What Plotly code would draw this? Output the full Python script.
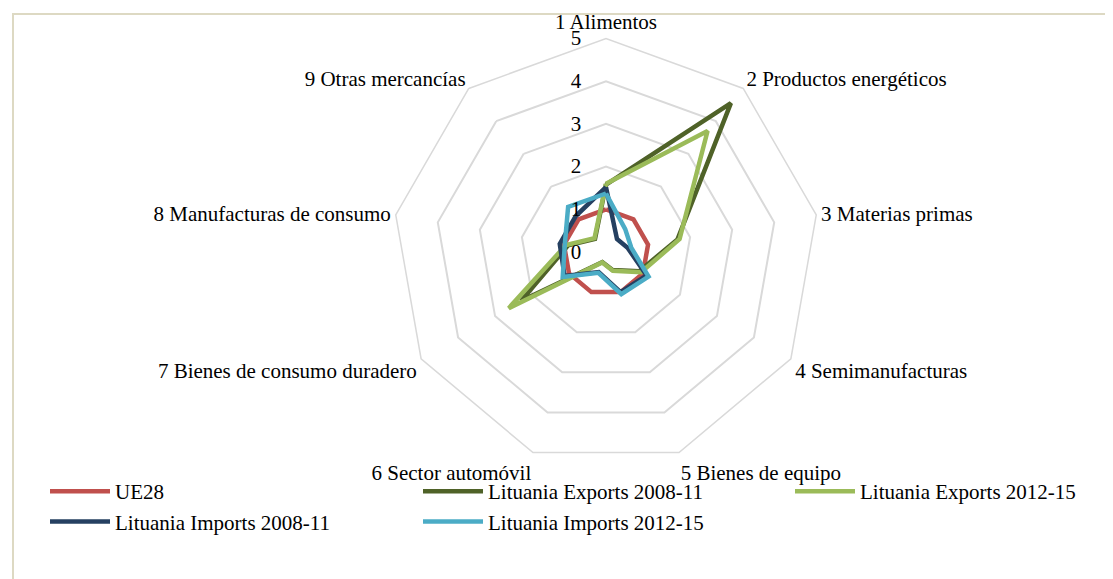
import plotly.graph_objects as go

categories = ["1 Alimentos", "2 Productos energéticos", "3 Materias primas",
              "4 Semimanufacturas", "5 Bienes de equipo", "6 Sector automóvil",
              "7 Bienes de consumo duradero", "8 Manufacturas de consumo",
              "9 Otras mercancías"]

series_names = ["UE28", "Lituania Exports 2008-11", "Lituania Exports 2012-15",
                "Lituania Imports 2008-11", "Lituania Imports 2012-15"]

ue28 = [1, 1, 1, 1, 1, 1, 1, 1, 1]
exp_2008_11 = [1.58, 4.55, 1.70, 0.90, 0.45, 0.25, 2.30, 0.90, 0.40]
exp_2012_15 = [1.60, 3.70, 1.75, 0.95, 0.47, 0.26, 2.63, 0.95, 0.42]
imp_2008_11 = [1.52, 0.40, 0.52, 1.10, 1.00, 0.50, 1.12, 1.10, 1.10]
imp_2012_15 = [1.37, 0.70, 0.60, 1.15, 1.05, 0.52, 1.17, 0.98, 1.38]

values = [ue28, exp_2008_11, exp_2012_15, imp_2008_11, imp_2012_15]
colors = ["#C0504D", "#4F6228", "#9BBB59", "#254061", "#4BACC6"]
legend_ids = ["legend", "legend2", "legend3", "legend", "legend2"]

W, H = 1113, 579
dcx, dcy, half = 598, 244, 213.5

font_family = "Liberation Serif, serif"
FS = 21

fig = go.Figure()
for name, vals, col, lg in zip(series_names, values, colors, legend_ids):
    fig.add_trace(go.Scatterpolar(
        r=vals + vals[:1], theta=categories + categories[:1],
        mode="lines", name=name, legend=lg, legendgroup=name,
        line=dict(color=col, width=4.5, shape="linear"),
        hoverinfo="name+r+theta",
    ))

legend_top = 463
def mk_legend(x_px):
    return dict(
        orientation="v", x=(x_px - 30) / W, xanchor="left",
        y=1 - legend_top / H, yanchor="top",
        font=dict(size=FS, family=font_family, color="black"),
        bgcolor="rgba(0,0,0,0)", tracegroupgap=0, itemwidth=60,
    )

fig.update_layout(
    width=W, height=H,
    margin=dict(l=0, r=0, t=0, b=0),
    paper_bgcolor="white",
    font=dict(family=font_family, size=FS, color="black"),
    polar=dict(
        domain=dict(x=[(dcx - half) / W, (dcx + half) / W],
                    y=[(H - (dcy + half)) / H, (H - (dcy - half)) / H]),
        bgcolor="white",
        gridshape="linear",
        angularaxis=dict(
            rotation=90, direction="clockwise",
            showgrid=False, showline=True, linecolor="#D9D9D9", linewidth=1.5,
            ticks="", ticklen=0,
            tickfont=dict(size=FS, family=font_family, color="black"),
        ),
        radialaxis=dict(
            range=[0, 5], dtick=1, angle=90, tickangle=90,
            side="counterclockwise",
            showline=False, ticks="", ticklen=0,
            ticksuffix="\u00a0\u00a0\u00a0\u00a0",
            gridcolor="#D9D9D9", gridwidth=1.5,
            tickfont=dict(size=FS, family=font_family, color="black"),
        ),
    ),
    showlegend=True,
    legend=mk_legend(67),
    legend2=mk_legend(440),
    legend3=mk_legend(812),
    shapes=[dict(type="rect", xref="paper", yref="paper",
                 x0=5 / W, x1=1.02, y0=-0.02, y1=1 - 6 / H,
                 line=dict(color="#DDD9C3", width=2), layer="below")],
)

fig.write_html("out.html")
